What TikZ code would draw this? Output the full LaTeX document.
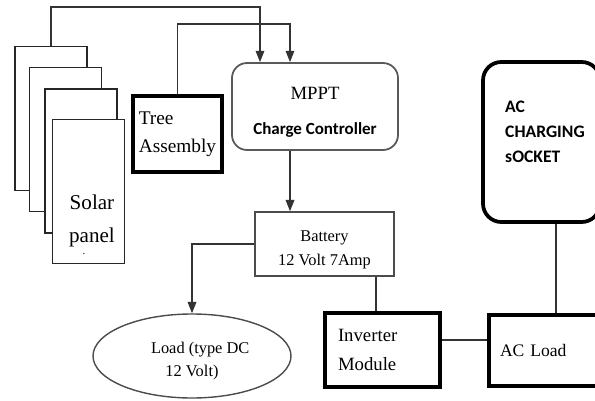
\documentclass[tikz,border=0pt]{standalone}
\usepackage{fontspec}
\setmainfont{Liberation Serif}
\newfontfamily\calib{Carlito}
\usetikzlibrary{arrows.meta,shapes.geometric}

\begin{document}
\begin{tikzpicture}[x=0.03cm,y=-0.03cm,>={Triangle[length=3.4mm,width=2.6mm]},
    wire/.style={line width=1.1pt,draw=black!80},
    panel/.style={draw=black!85,line width=1.2pt,fill=white,minimum width=2.16cm,minimum height=4.32cm},
    thickbox/.style={draw,line width=3.2pt,fill=white,inner sep=0pt},
    thinbox/.style={draw=black!70,line width=1.2pt}]
      \useasboundingbox (0,0) rectangle (595,401);
      \clip (0,0) rectangle (595,401);
      % solar panels
      \node[panel] (P1) at (51,118.5) {};
      \node[panel] (P2) at (65.5,139.5) {};
      \node[panel] (P3) at (81,161) {};
      \node[panel] (P4) at (88.5,191.5) {};
      \node[inner sep=0pt,align=center,font=\fontsize{18}{28}\selectfont] (solar) at (92,221) {Solar\\panel};
      \node[font=\small,inner sep=0pt] (dot) at (84,254) {.};
      \node[thickbox,minimum width=2.67cm,minimum height=2.28cm,align=left,font=\fontsize{16.5}{24}\selectfont] (TA) at (177.5,134) {Tree\\Assembly};
      \node[draw=black!65,line width=1.5pt,rounded corners=0.45cm,minimum width=4.98cm,minimum height=2.61cm,align=center,font=\fontsize{16}{30}\selectfont] (MPPT) at (315,106.5) {\rule{0pt}{20pt}MPPT\\{\calib\bfseries\fontsize{14.5}{30}\selectfont Charge Controller}};
      \node[thinbox,minimum width=4.17cm,minimum height=1.92cm,align=center,font=\fontsize{14}{20.5}\selectfont] (Bat) at (324.5,244) {\rule{0pt}{19.5pt}Battery\\12 Volt 7Amp};
      \node[ellipse,draw=black!70,line width=1.2pt,minimum width=5.94cm,minimum height=2.52cm,inner sep=0pt,align=center,font=\fontsize{14}{19.5}\selectfont] (Load) at (192,356) {\rule{0pt}{18pt}\hspace{14pt}Load (type DC\\12 Volt)};
      \node[thickbox,minimum width=3.45cm,minimum height=2.22cm,text width=2.67cm,inner xsep=0.39cm,align=left,font=\fontsize{16}{25}\selectfont] (Inv) at (382.5,350) {Inverter\\Module};
      \node[thickbox,minimum width=3.63cm,minimum height=2.13cm,text width=2.97cm,inner xsep=0.33cm,align=left,font=\fontsize{15}{20}\selectfont] (ACL) at (549.5,350.5) {AC Load};
      \node[thickbox,rounded corners=0.55cm,minimum width=3.51cm,minimum height=4.8cm] (Sock) at (541.5,142) {};
      \node[anchor=west,inner sep=0pt,align=left,font=\calib\bfseries\fontsize{15}{21.5}\selectfont] (socktxt) at (505,132) {AC\\CHARGING\\sOCKET};
      % connections
      \coordinate (t1) at (260,7);
      \coordinate (t2) at (290,24);
      \draw[wire,->] (P1.north) |- (t1) -- (t1 |- MPPT.north);
      \draw[wire,->] (TA.north) |- (t2) -- (t2 |- MPPT.north);
      \draw[wire,->] (MPPT.south -| t2) -- (t2 |- Bat.north);
      \draw[wire,->] (Bat.west) -| (Load.north);
      \coordinate (c3) at (376,300);
      \draw[wire] (c3 |- Bat.south) -- (c3 |- Inv.north);
      \coordinate (c4) at (465,340);
      \draw[wire] (c4 -| Inv.east) -- (c4 -| ACL.west);
      \coordinate (c5) at (556,280);
      \draw[wire] (c5 |- Sock.south) -- (c5 |- ACL.north);
    \end{tikzpicture}
\end{document}
